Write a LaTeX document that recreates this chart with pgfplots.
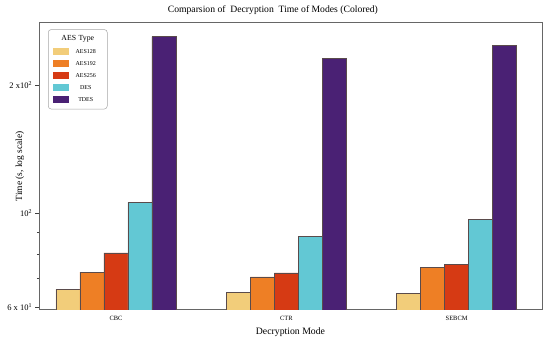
\documentclass[border=0pt]{standalone}
\usepackage{pgfplots}
\usepackage{pgfplotstable}
\pgfplotsset{compat=1.18}
\usepackage{fontspec}
\setmainfont{Liberation Serif}
\definecolor{cA}{RGB}{242,205,122}
\definecolor{cB}{RGB}{238,127,37}
\definecolor{cC}{RGB}{214,58,20}
\definecolor{cD}{RGB}{98,200,212}
\definecolor{cE}{RGB}{74,33,116}
\definecolor{edge}{RGB}{90,75,75}
\pgfplotstableread{
x AES128 AES192 AES256 DES TDES
0 66.1 72.5 80.5 105.8 259.7
1 65.1 70.7 72.2 88.0 231.0
2 64.7 74.3 75.6 96.5 247.9
}\datatable
\pgfplotsset{
  barstyle/.style={ybar, bar width=0.1409, draw=edge, line width=0.45bp,
    legend image code/.code={\path[##1,draw=none,sharp corners] (0bp,-3.5bp) rectangle (16bp,3.5bp);}},
}
\begin{document}
\begin{tikzpicture}
\path[use as bounding box] (-39bp,-33.5bp) rectangle (511bp,309.7bp);
\begin{axis}[
  scale only axis, width=503bp, height=287bp,
  at={(0,0)}, anchor=south west,
  ymode=log, ymin=59.16, ymax=280.2,
  xmin=-0.452, xmax=2.501,
  xtick={0,1,2}, xticklabels={CBC,CTR,SEBCM},
  xtick style={draw=none},
  ytick={60,100,200},
  yticklabels={6 x 10\textsuperscript{1}, 10\textsuperscript{2}, 2 x10\textsuperscript{2}},
  minor ytick={70,80,90},
  ytick pos=left, tick align=outside,
  major tick length=3.5bp, minor tick length=2bp,
  ytick style={draw=black!75, line width=0.5bp},
  axis line style={draw=black!60, line width=0.6bp},
  xticklabel style={font=\fontsize{6.5}{7}\selectfont},
  yticklabel style={font=\fontsize{8.5}{9}\selectfont},
  title={Comparsion of\ \ Decryption\ \ Time of Modes (Colored)},
  title style={at={(axis description cs:0.465,1)}, anchor=center, yshift=6.5bp, font=\fontsize{9.7}{11}\selectfont},
  xlabel={Decryption Mode},
  xlabel style={at={(axis description cs:0.5,0)}, anchor=center, yshift=-22.8bp, font=\fontsize{9.8}{11}\selectfont},
  ylabel={Time (s, log scale)},
  ylabel style={at={(axis description cs:-0.038,0.5)}, anchor=center, font=\fontsize{9.5}{11}\selectfont},
  legend style={at={(axis description cs:0.0179,0.977)}, anchor=north west,
    draw=black!35, rounded corners=3bp, line width=0.5bp, fill=white,
    inner xsep=5bp, inner ysep=5.5bp, row sep=3.5bp, column sep=0bp,
    cells={anchor=center},
    nodes={inner xsep=3bp, inner ysep=1bp, text width=27bp, align=center,
      text height=5bp, text depth=1.5bp, font=\fontsize{6}{6.5}\selectfont},
    label={[anchor=center, yshift=-9.5bp, font=\fontsize{7.8}{8}\selectfont, inner sep=0pt, text width=44bp, align=center]north:AES Type}},
]
\addlegendimage{empty legend}\addlegendentry{}
\addplot[barstyle, bar shift=-0.2818, fill=cA] table[x=x, y=AES128] {\datatable};
\addlegendentry{AES128}
\addplot[barstyle, bar shift=-0.1409, fill=cB] table[x=x, y=AES192] {\datatable};
\addlegendentry{AES192}
\addplot[barstyle, bar shift=0, fill=cC] table[x=x, y=AES256] {\datatable};
\addlegendentry{AES256}
\addplot[barstyle, bar shift=0.1409, fill=cD] table[x=x, y=DES] {\datatable};
\addlegendentry{DES}
\addplot[barstyle, bar shift=0.2818, fill=cE] table[x=x, y=TDES] {\datatable};
\addlegendentry{TDES}
\end{axis}
\end{tikzpicture}
\end{document}
